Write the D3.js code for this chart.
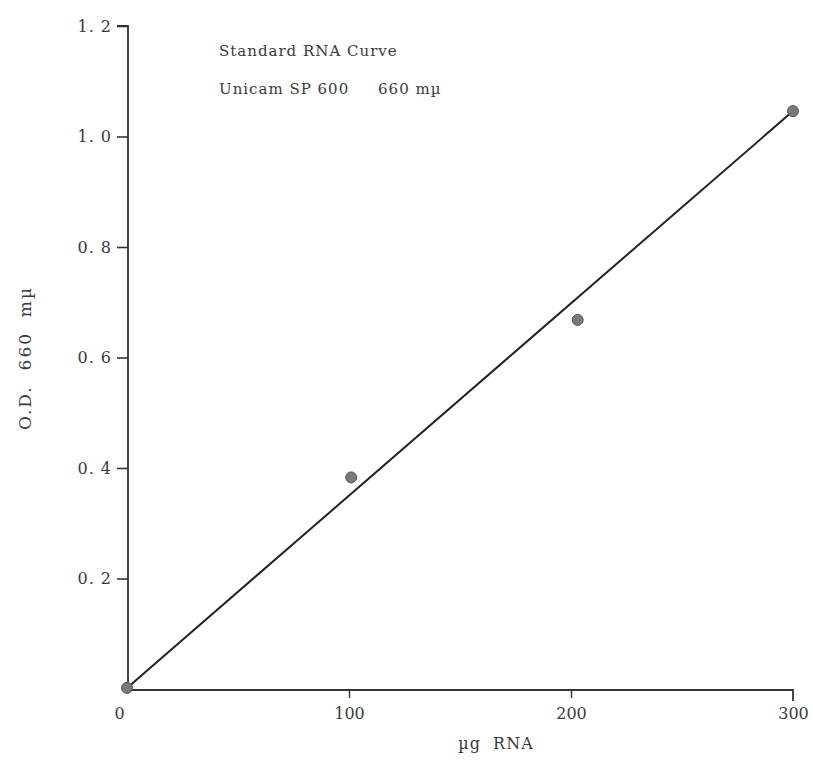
<!DOCTYPE html>
<html><head><meta charset="utf-8">
<script src="https://cdn.jsdelivr.net/npm/d3@7"></script>
<style>
html,body{margin:0;padding:0;background:#fff;}
text{font-family:"DejaVu Serif","Liberation Serif",serif;fill:#3a3a3a;}
</style></head>
<body><svg id="c" width="813" height="774"></svg>
<script>
const xTicks = [0, 100, 200, 300];
const yTicks = [0.2, 0.4, 0.6, 0.8, 1.0, 1.2];
const yTickLabels = ["0. 2", "0. 4", "0. 6", "0. 8", "1. 0", "1. 2"];
const pointsX = [0, 101, 203, 300];
const pointsY = [0.002, 0.383, 0.668, 1.046];
const fitX = [0, 300];
const fitY = [0.002, 1.046];
const titleLines = ["Standard RNA Curve", "Unicam SP 600     660 m\u00b5"];
const xLabel = "\u00b5g  RNA";
const yLabel = "O.D.  660  m\u00b5";

const svg = d3.select("#c");
const x = d3.scaleLinear().domain([0, 300]).range([127, 793]);
const y = d3.scaleLinear().domain([0, 1.2]).range([689, 26]);
const ink = "#333";

// y axis
const yAxis = d3.axisLeft(y).tickValues(yTicks).tickSize(11).tickPadding(5)
  .tickFormat((d, i) => yTickLabels[i]);
const gy = svg.append("g").attr("transform", `translate(${x(0)+1},0)`).call(yAxis);
gy.select(".domain").attr("d", `M-11,${y(1.2)}H0V${y(0)+1}`).attr("stroke", ink).attr("stroke-width", 1.8);
gy.selectAll(".tick line").attr("stroke", ink).attr("stroke-width", 1.6);
gy.selectAll(".tick text").attr("font-size", 16).attr("fill", "#3a3a3a").style("letter-spacing","1px");

// x axis
const xAxis = d3.axisBottom(x).tickValues(xTicks).tickSize(8).tickPadding(10);
const gx = svg.append("g").attr("transform", `translate(0,${y(0)+1})`).call(xAxis);
gx.select(".domain").attr("d", `M${x(0)},0H${x(300)}V11`).attr("stroke", ink).attr("stroke-width", 1.8);
gx.selectAll(".tick line").attr("stroke", ink).attr("stroke-width", 1.4)
  .attr("opacity", d => (d === 0 || d === 300) ? 0 : 1);
gx.selectAll(".tick text").attr("font-size", 16).attr("fill", "#3a3a3a")
  .attr("dx", d => d === 0 ? -8 : 0);

// fit line
const line = d3.line().x(d => x(d[0])).y(d => y(d[1]));
svg.append("path").datum(fitX.map((v, i) => [v, fitY[i]]))
  .attr("d", line).attr("stroke", "#222").attr("stroke-width", 2).attr("fill", "none");

// points
svg.selectAll("circle.pt").data(pointsX.map((v, i) => [v, pointsY[i]])).enter()
  .append("circle").attr("class", "pt")
  .attr("cx", d => x(d[0])).attr("cy", d => y(d[1])).attr("r", 5.5)
  .attr("fill", "#7a7a7a").attr("stroke", "#555").attr("stroke-width", 1);

// title
svg.selectAll("text.title").data(titleLines).enter().append("text")
  .attr("class", "title").attr("x", 219).attr("y", (d, i) => 56 + i * 38)
  .attr("font-size", 15).style("letter-spacing", "1px")
  .attr("xml:space", "preserve").text(d => d);

// axis labels
svg.append("text").attr("x", 496).attr("y", 749).attr("text-anchor", "middle")
  .attr("font-size", 16).style("letter-spacing", "1px").attr("xml:space", "preserve").text(xLabel);
svg.append("text").attr("transform", "translate(31,358) rotate(-90)").attr("text-anchor", "middle")
  .attr("font-size", 17).style("letter-spacing", "2px").attr("xml:space", "preserve").text(yLabel);
</script></body></html>
